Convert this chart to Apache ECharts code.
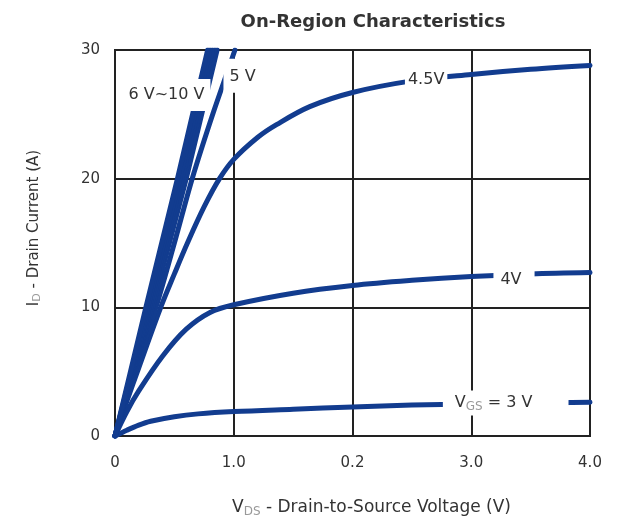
<!DOCTYPE html>
<html>
<head>
<meta charset="utf-8">
<script src="https://cdn.jsdelivr.net/npm/echarts@6/dist/echarts.min.js"></script>
<style>html,body{margin:0;padding:0;background:#fff;}#c{width:623px;height:517px;}</style>
</head>
<body>
<div id="c"></div>
<script>
// ---- data ----
const xTickLabels = ["0", "1.0", "0.2", "3.0", "4.0"];
const yTicks = [0, 10, 20, 30];

const v10 = [[0,0],[0.26,10],[0.526,20],[0.78,30]];
const v9  = [[0,0],[0.274,10],[0.545,20],[0.8,30]];
const v8  = [[0,0],[0.288,10],[0.563,20],[0.82,30]];
const v7  = [[0,0],[0.302,10],[0.582,20],[0.84,30]];
const v6  = [[0,0],[0.316,10],[0.6,20],[0.86,30]];
const v5  = [[0,0],[0.17,5],[0.345,10],[0.5,15],[0.65,20],[0.83,25.2],[1.01,30]];
const v45 = [[0,0],[0.1,2.7],[0.2,5.3],[0.385,10],[0.5,12.6],[0.61,15],[0.75,17.8],[0.88,20],[1.0,21.5],[1.2,23.2],[1.36,24.2],[1.64,25.6],[2.0,26.7],[2.5,27.6],[3.0,28.1],[3.5,28.5],[4.0,28.8]];
const v4  = [[0,0],[0.1,1.9],[0.2,3.5],[0.4,6.2],[0.6,8.3],[0.8,9.6],[1.0,10.2],[1.5,11.1],[2.0,11.7],[2.5,12.1],[3.0,12.4],[3.5,12.6],[4.0,12.7]];
const v3  = [[0,0],[0.1,0.45],[0.2,0.85],[0.3,1.15],[0.5,1.5],[0.7,1.72],[1.0,1.9],[1.5,2.08],[2.0,2.25],[2.5,2.4],[3.0,2.5],[3.5,2.56],[4.0,2.62]];

const curveLabels = ["{a|6 V~10 V}", "{a|5 V}", "{a|4.5V}", "{a|4V}", "{a|V}{s|GS}{a| = 3 V}"];
const labelX = [0.45, 1.07, 2.62, 3.36, 3.29];
const labelY = [26.5, 28.0, 27.66, 12.12, 2.56];

// ---- styling ----
const BLUE = '#123c8f';
const TXT = '#333';
const FONT = 'DejaVu Sans, Verdana, sans-serif';
const labelPads = [[8,6,8,2],[10,5,8,6],[3,3,3,3],[3,13,3,7],[3,36,3,12]];

function lineSeries(data, smooth) {
  return {
    type: 'line', data: data, showSymbol: false, symbol: 'none',
    smooth: smooth, lineStyle: { color: BLUE, width: 5, cap: 'round', join: 'round' },
    silent: true, z: 3, clip: true
  };
}

const rich = {
  a: { fontSize: 16, color: TXT, fontFamily: FONT },
  s: { fontSize: 12, color: '#999', fontFamily: FONT, padding: [7,0,0,0] }
};

const labelSeries = curveLabels.map((t, i) => ({
  type: 'scatter', data: [[labelX[i], labelY[i]]], symbolSize: 1,
  itemStyle: { color: '#fff', opacity: 1 }, z: 10, silent: true,
  label: {
    show: true, position: 'inside', formatter: t, rich: rich, opacity: 1,
    backgroundColor: '#ffffff', padding: labelPads[i]
  },
  emphasis: { disabled: true }
}));

const chart = echarts.init(document.getElementById('c'), null, { renderer: 'canvas' });
chart.setOption({
  animation: false,
  backgroundColor: '#fff',
  title: {
    text: 'On-Region Characteristics', left: 368, top: 8, textAlign: 'center',
    textStyle: { fontSize: 18, fontWeight: 'bold', color: TXT, fontFamily: FONT }
  },
  grid: { left: 115, right: 33, top: 50, bottom: 81, show: true, borderColor: '#222', borderWidth: 2, backgroundColor: '#fff', outerBoundsMode: 'none', containLabel: false },
  xAxis: {
    type: 'value', min: 0, max: 4, interval: 1,
    axisLine: { show: false }, axisTick: { show: false },
    splitLine: { show: true, lineStyle: { color: '#222', width: 2 } },
    axisLabel: { margin: 20, fontSize: 15, color: TXT, fontFamily: FONT,
      formatter: v => xTickLabels[Math.round(v)] },
    name: '{a|V}{s|DS}{a| - Drain-to-Source Voltage (V)}', nameLocation: 'middle', nameGap: 62,
    nameTextStyle: { padding: [0,0,0,38], rich: {
      a: { fontSize: 17, color: TXT, fontFamily: FONT },
      s: { fontSize: 12, color: '#999', fontFamily: FONT, padding: [8,0,0,0] } } }
  },
  yAxis: {
    type: 'value', min: 0, max: 30, interval: 10,
    axisLine: { show: false }, axisTick: { show: false },
    splitLine: { show: true, lineStyle: { color: '#222', width: 2 } },
    axisLabel: { margin: 15, fontSize: 15, color: TXT, fontFamily: FONT,
      formatter: v => String(v) },
    name: '{a|I}{s|D}{a| - Drain Current (A)}', nameLocation: 'middle', nameGap: 72,
    nameTextStyle: { padding: [0,0,0,30], rich: {
      a: { fontSize: 15, color: TXT, fontFamily: FONT },
      s: { fontSize: 11, color: '#999', fontFamily: FONT, padding: [7,0,0,0] } } }
  },
  series: [
    lineSeries(v3, 0.35), lineSeries(v4, 0.35), lineSeries(v45, 0.35), lineSeries(v5, 0.3),
    lineSeries(v6, false), lineSeries(v7, false), lineSeries(v8, false), lineSeries(v9, false), lineSeries(v10, false)
  ].concat(labelSeries)
});
</script>
</body>
</html>
